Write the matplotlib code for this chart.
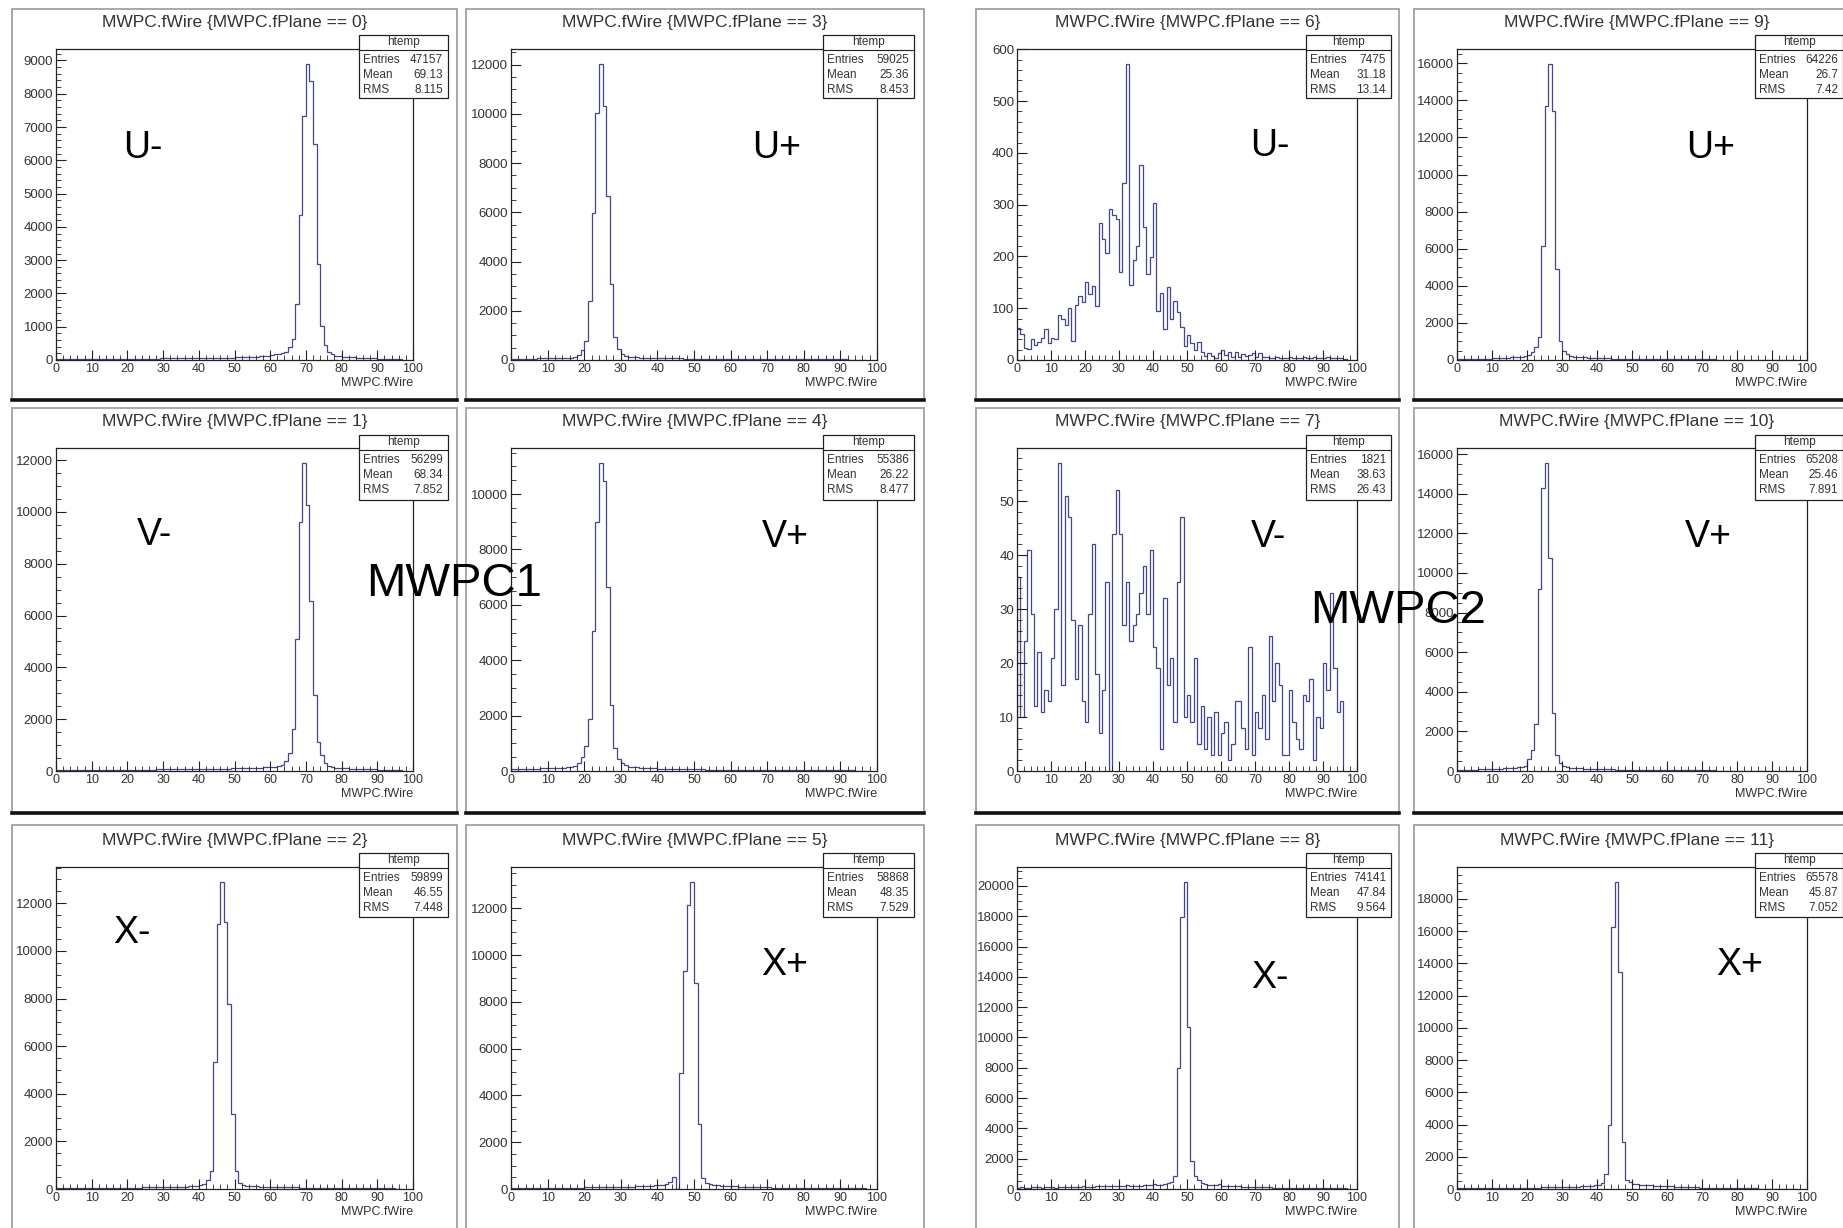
# MWPC wire hit maps, 12 planes (two chambers), redrawn ROOT-style.
import numpy as np
import matplotlib
matplotlib.use("Agg")
import matplotlib.pyplot as plt
from matplotlib.patches import Rectangle
from matplotlib.lines import Line2D
from matplotlib.ticker import MultipleLocator

# counts per wire (bin width 1, starting at wire 0)
counts_p0 = [30, 30, 30, 30, 30, 35, 35, 35, 35, 35,
             35, 35, 35, 35, 35, 40, 40, 40, 40, 40,
             40, 40, 40, 45, 45, 45, 45, 45, 45, 50,
             50, 50, 50, 50, 55, 55, 55, 55, 60, 60,
             60, 60, 65, 65, 65, 70, 70, 70, 75, 75,
             80, 80, 85, 90, 90, 95, 100, 110, 120, 130,
             150, 170, 180, 200, 250, 400, 620, 1680, 4370, 7330,
             8900, 8380, 6500, 2870, 1020, 450, 250, 170, 130, 110,
             100, 90, 85, 80, 75, 70, 65, 60, 55, 50,
             45, 40, 40, 35, 35, 30, 30]
counts_p1 = [30, 30, 30, 35, 35, 35, 35, 35, 40, 40,
             40, 40, 40, 40, 45, 45, 45, 45, 45, 50,
             50, 50, 50, 50, 55, 55, 55, 55, 60, 60,
             60, 60, 65, 65, 65, 70, 70, 70, 75, 75,
             80, 80, 80, 85, 85, 90, 90, 95, 95, 100,
             100, 105, 110, 110, 115, 120, 125, 130, 140, 145,
             150, 170, 200, 250, 390, 680, 1630, 5100, 9590, 11870,
             10260, 6550, 2920, 1110, 620, 320, 200, 150, 130, 120,
             110, 100, 95, 90, 85, 80, 75, 70, 65, 60,
             55, 50, 45, 40, 40, 35, 35]
counts_p2 = [30, 30, 30, 30, 35, 35, 35, 35, 40, 40,
             40, 40, 45, 45, 45, 50, 50, 50, 55, 55,
             55, 60, 60, 60, 65, 65, 70, 70, 75, 75,
             80, 80, 85, 90, 90, 95, 100, 110, 120, 140,
             160, 200, 360, 770, 5330, 11130, 12880, 11230, 7780, 3160,
             740, 250, 150, 130, 120, 115, 110, 105, 100, 95,
             90, 85, 80, 80, 75, 70, 70, 65, 60, 60,
             55, 55, 50, 50, 50, 45, 45, 45, 40, 40,
             40, 35, 35, 35, 35, 30, 30, 30, 30, 30,
             25, 25, 25, 25, 25, 20, 20]
counts_p3 = [60, 60, 60, 60, 60, 60, 60, 65, 65, 65,
             70, 70, 70, 75, 75, 80, 100, 120, 200, 400,
             785, 2400, 5980, 10040, 12040, 10340, 6670, 3070, 920, 430,
             240, 170, 140, 120, 110, 100, 95, 90, 85, 80,
             80, 75, 75, 70, 70, 65, 65, 60, 60, 60,
             55, 55, 55, 50, 50, 50, 50, 45, 45, 45,
             45, 40, 40, 40, 40, 40, 35, 35, 35, 35,
             35, 35, 30, 30, 30, 30, 30, 30, 30, 30,
             30, 30, 25, 25, 25, 25, 25, 25, 25, 25,
             25, 25, 20, 20, 20, 20, 20]
counts_p4 = [70, 75, 75, 80, 80, 85, 85, 90, 95, 100,
             100, 105, 110, 115, 120, 130, 150, 180, 280, 520,
             920, 1870, 5070, 9010, 11110, 10480, 6640, 2390, 820, 435,
             280, 200, 160, 140, 130, 120, 110, 105, 100, 95,
             90, 85, 80, 80, 75, 70, 70, 65, 60, 60,
             55, 55, 55, 50, 50, 50, 45, 45, 45, 40,
             40, 40, 40, 35, 35, 35, 35, 30, 30, 30,
             30, 30, 30, 30, 25, 25, 25, 25, 25, 25,
             25, 25, 25, 20, 20, 20, 20, 20, 20, 20,
             20, 20, 20, 20, 15, 15, 15]
counts_p5 = [35, 35, 35, 40, 40, 40, 40, 45, 45, 45,
             45, 50, 50, 50, 55, 55, 55, 60, 60, 60,
             65, 65, 70, 70, 75, 75, 80, 80, 85, 85,
             90, 95, 100, 100, 110, 115, 120, 130, 140, 150,
             170, 190, 230, 300, 500, 0, 4950, 9300, 12140, 13110,
             8800, 2790, 470, 256, 200, 170, 150, 140, 130, 120,
             115, 110, 105, 100, 95, 90, 85, 80, 75, 70,
             65, 60, 60, 55, 55, 50, 50, 45, 45, 45,
             40, 40, 40, 35, 35, 35, 35, 30, 30, 30,
             30, 30, 25, 25, 25, 25, 25]
counts_p6 = [61, 51, 24, 22, 40, 29, 34, 42, 59, 32,
             42, 40, 86, 79, 68, 100, 37, 106, 124, 112,
             151, 127, 143, 104, 264, 233, 206, 291, 280, 273,
             170, 342, 572, 145, 194, 220, 377, 257, 166, 198,
             304, 95, 129, 59, 141, 80, 114, 93, 63, 28,
             48, 32, 19, 35, 15, 8, 14, 8, 3, 13,
             19, 10, 16, 6, 16, 5, 12, 8, 10, 13,
             6, 14, 6, 5, 4, 3, 5, 4, 3, 4,
             5, 4, 3, 4, 5, 3, 4, 6, 3, 4,
             3, 5, 4, 3, 4, 3, 2]
counts_p7 = [36, 10, 24, 41, 29, 12, 22, 11, 15, 13,
             21, 30, 57, 16, 51, 47, 28, 17, 27, 13,
             9, 29, 42, 18, 7, 15, 35, 0, 44, 52,
             44, 27, 35, 24, 27, 29, 33, 38, 29, 41,
             23, 19, 4, 32, 16, 21, 9, 35, 47, 10,
             14, 9, 21, 5, 12, 4, 10, 3, 11, 3,
             7, 9, 2, 5, 13, 13, 8, 4, 23, 3,
             11, 8, 14, 6, 25, 13, 20, 16, 3, 3,
             15, 9, 6, 4, 14, 13, 17, 2, 10, 8,
             20, 15, 33, 19, 11, 13]
counts_p8 = [90, 100, 90, 95, 100, 110, 100, 95, 100, 105,
             100, 95, 100, 105, 100, 110, 115, 120, 125, 200,
             140, 150, 160, 170, 180, 210, 190, 170, 180, 200,
             190, 200, 280, 230, 210, 220, 230, 240, 250, 260,
             340, 290, 280, 300, 380, 480, 835, 7980, 17980, 20240,
             10680, 1820, 835, 615, 400, 320, 290, 270, 250, 300,
             230, 210, 200, 190, 180, 170, 160, 150, 140, 130,
             120, 115, 110, 105, 100, 95, 90, 85, 80, 80,
             75, 75, 70, 70, 65, 65, 60, 60, 60, 55,
             55, 50, 50, 50, 45, 45, 45]
counts_p9 = [50, 50, 55, 55, 60, 60, 65, 70, 75, 80,
             85, 90, 100, 110, 120, 140, 150, 160, 180, 200,
             270, 450, 720, 1260, 6150, 13670, 15970, 13400, 4890, 1025,
             485, 300, 220, 180, 160, 150, 140, 130, 120, 110,
             100, 95, 90, 85, 80, 75, 70, 65, 60, 60,
             55, 55, 50, 50, 50, 45, 45, 45, 40, 40,
             40, 40, 35, 35, 35, 35, 35, 30, 30, 30,
             30, 30, 30, 30, 25, 25, 25, 25, 25, 25,
             25, 25, 25, 20, 20, 20, 20, 20, 20, 20,
             20, 20, 20, 20, 15, 15, 15]
counts_p10 = [60, 60, 65, 65, 70, 75, 80, 85, 90, 95,
              100, 110, 120, 130, 140, 150, 160, 180, 200, 270,
              590, 1060, 2360, 9200, 14310, 15530, 10770, 2920, 810, 390,
              270, 200, 170, 150, 140, 130, 120, 115, 110, 105,
              100, 95, 90, 85, 80, 75, 70, 65, 65, 60,
              60, 55, 55, 50, 50, 50, 45, 45, 45, 40,
              40, 40, 40, 35, 35, 35, 35, 30, 30, 30,
              30, 30, 30, 30, 25, 25, 25, 25, 25, 25,
              25, 25, 25, 25, 20, 20, 20, 20, 20, 20,
              20, 20, 20, 20, 15, 15, 15]
counts_p11 = [40, 40, 45, 45, 45, 50, 50, 50, 55, 55,
              55, 60, 60, 65, 65, 70, 70, 75, 75, 80,
              80, 85, 90, 90, 95, 100, 100, 105, 110, 115,
              120, 125, 130, 140, 150, 160, 170, 180, 200, 220,
              270, 400, 930, 3990, 16260, 19030, 13470, 2900, 580, 420,
              330, 280, 260, 240, 230, 220, 210, 200, 190, 180,
              170, 160, 150, 140, 130, 120, 110, 100, 95, 90,
              85, 80, 75, 70, 65, 60, 55, 50, 50, 45,
              45, 40, 40, 35, 35, 35, 30, 30, 30, 30,
              25, 25, 25, 25, 20, 20, 20]

counts = [counts_p0, counts_p1, counts_p2, counts_p3, counts_p4, counts_p5,
          counts_p6, counts_p7, counts_p8, counts_p9, counts_p10, counts_p11]

# stat box contents, by plane number
entries = ["47157", "56299", "59899", "59025", "55386", "58868",
           "7475", "1821", "74141", "64226", "65208", "65578"]
means = ["69.13", "68.34", "46.55", "25.36", "26.22", "48.35",
         "31.18", "38.63", "47.84", "26.7", "25.46", "45.87"]
rmss = ["8.115", "7.852", "7.448", "8.453", "8.477", "7.529",
        "13.14", "26.43", "9.564", "7.42", "7.891", "7.052"]
plane_names = ["U-", "V-", "X-", "U+", "V+", "X+",
               "U-", "V-", "X-", "U+", "V+", "X+"]
chamber_names = ["MWPC1", "MWPC2"]
# y tick steps (major, minor) by plane
ystep = [(1000, 200), (2000, 500), (2000, 500), (2000, 500), (2000, 500), (2000, 500),
         (100, 20), (10, 2), (2000, 500), (2000, 500), (2000, 500), (2000, 500)]

# ---- layout in pixels of the 1843x1228 picture
W, H = 1843, 1228
col_frame = [(12, 457), (466, 924), (976, 1399), (1414, 1860)]
col_axes = [(56, 413), (511, 877), (1017, 1357), (1457, 1807)]
col_stat = [(359, 448), (823, 914), (1306, 1391), (1755, 1843)]
row_frame = [(9, 400), (408, 813), (825, 1234)]
row_axes = [(49, 360), (448, 771), (867, 1189)]
row_stat = [(35, 98), (435, 500), (853, 917)]
row_title = [23, 422, 840]
label_pos = {(0, 0): (143, 148), (0, 1): (777, 148), (0, 2): (1270, 146), (0, 3): (1711, 148),
             (1, 0): (154, 535), (1, 1): (785, 537), (1, 2): (1268, 537), (1, 3): (1708, 537),
             (2, 0): (132, 933), (2, 1): (785, 965), (2, 2): (1270, 978), (2, 3): (1740, 965)}
chamber_pos = [(454, 584), (1398, 611)]

plt.rcParams['font.family'] = ['Liberation Sans Narrow', 'Liberation Sans', 'DejaVu Sans']
TXT = '#333333'
LINE = '#45458e'

fig = plt.figure(figsize=(W / 100, H / 100), dpi=100)
fig.patch.set_facecolor('white')

def fx(x):
    return x / W

def fy(y):
    return 1 - y / H

for p in range(12):
    col = (p // 6) * 2 + (p % 6) // 3
    row = p % 3
    # pad frame: light border, dark bottom edge
    l, r = col_frame[col]
    t, b = row_frame[row]
    fig.add_artist(Rectangle((fx(l), fy(b)), (r - l) / W, (b - t) / H,
                             transform=fig.transFigure, facecolor='none',
                             edgecolor='#999999', lw=1.2, zorder=1))
    fig.add_artist(Line2D([fx(l), fx(r)], [fy(b), fy(b)], transform=fig.transFigure,
                          color='#111111', lw=2.6, zorder=1))
    fig.text(fx((l + r) / 2), fy(row_title[row]), f"MWPC.fWire {{MWPC.fPlane == {p}}}",
             ha='center', va='center', fontsize=12.5, color=TXT)

    al, ar = col_axes[col]
    at, ab = row_axes[row]
    ax = fig.add_axes([fx(al), fy(ab), (ar - al) / W, (ab - at) / H])
    vals = np.array(counts[p])
    ax.stairs(vals, np.arange(len(vals) + 1), color=LINE, lw=0.9, baseline=0)
    ax.set_xlim(0, 100)
    ax.set_ylim(0, vals.max() * 1.05)
    ax.xaxis.set_major_locator(MultipleLocator(10))
    ax.xaxis.set_minor_locator(MultipleLocator(2))
    ax.yaxis.set_major_locator(MultipleLocator(ystep[p][0]))
    ax.yaxis.set_minor_locator(MultipleLocator(ystep[p][1]))
    ax.tick_params(which='both', direction='in', top=False, right=False, colors='#222222',
                   labelcolor=TXT)
    ax.tick_params(which='major', length=7, width=0.8, pad=2)
    ax.tick_params(which='minor', length=3.5, width=0.6)
    ax.tick_params(axis='x', labelsize=9)
    ax.tick_params(axis='y', labelsize=9.5)
    for s in ax.spines.values():
        s.set_color('#222222')
        s.set_linewidth(0.9)
    fig.text(fx(ar), fy(ab + 23), "MWPC.fWire", ha='right', va='center',
             fontsize=9, color=TXT)

    # stat box
    sl, sr = col_stat[col]
    st, sb = row_stat[row]
    fig.add_artist(Rectangle((fx(sl), fy(sb)), (sr - sl) / W, (sb - st) / H,
                             transform=fig.transFigure, facecolor='white',
                             edgecolor='#222222', lw=0.9, zorder=3))
    fig.add_artist(Line2D([fx(sl), fx(sr)], [fy(st + 15), fy(st + 15)],
                          transform=fig.transFigure, color='#222222', lw=0.8, zorder=4))
    fig.text(fx((sl + sr) / 2), fy(st + 7.5), "htemp", ha='center', va='center',
             fontsize=8.5, color=TXT, zorder=5)
    rows = [("Entries", entries[p]), ("Mean", means[p]), ("RMS", rmss[p])]
    for i, (name, val) in enumerate(rows):
        yy = st + 25 + 15 * i
        fig.text(fx(sl + 4), fy(yy), name, ha='left', va='center', fontsize=8.5,
                 color=TXT, zorder=5)
        fig.text(fx(sr - 5), fy(yy), val, ha='right', va='center', fontsize=8.5,
                 color=TXT, zorder=5)

    lx, ly = label_pos[(row, col)]
    fig.text(fx(lx), fy(ly), plane_names[p], ha='center', va='center', fontsize=27,
             family='Liberation Sans', color='black', zorder=6)

for k, name in enumerate(chamber_names):
    cx, cy = chamber_pos[k]
    fig.text(fx(cx), fy(cy), name, ha='center', va='center', fontsize=34,
             family='Liberation Sans', color='black', zorder=6)

fig.savefig("out.png", dpi=100, facecolor='white')
